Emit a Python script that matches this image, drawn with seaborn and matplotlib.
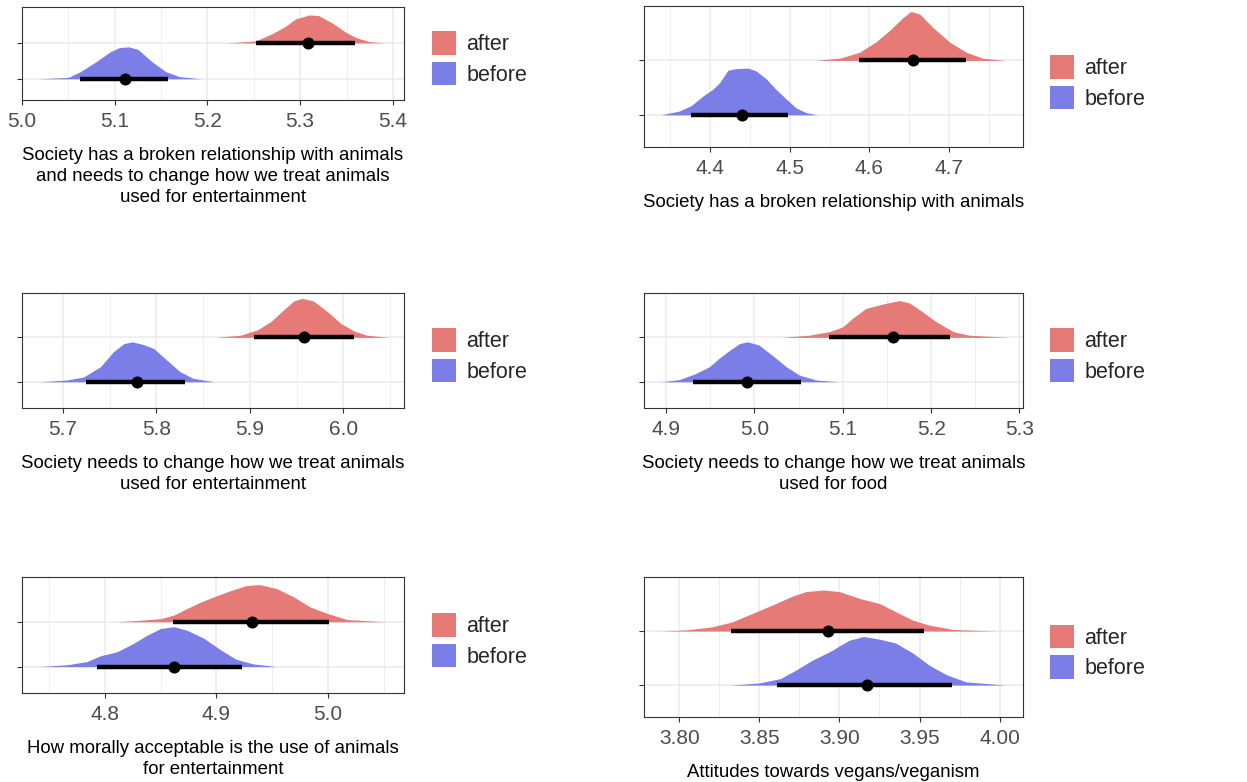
import matplotlib
matplotlib.use("Agg")
import matplotlib.pyplot as plt
from matplotlib.patches import Patch
from matplotlib.ticker import MultipleLocator, FormatStrFormatter
import seaborn as sns

# ---- data (posterior slabs + point intervals) ----
groups = ["after", "before"]
colors = {"after": "#E57A77", "before": "#7B7EE6"}

titles = [
    "Society has a broken relationship with animals\nand needs to change how we treat animals\nused for entertainment",
    "Society has a broken relationship with animals",
    "Society needs to change how we treat animals\nused for entertainment",
    "Society needs to change how we treat animals\nused for food",
    "How morally acceptable is the use of animals\nfor entertainment",
    "Attitudes towards vegans/veganism",
]

xlims = [(5.0, 5.412), (4.318, 4.792), (5.656, 6.065),
         (4.875, 5.304), (4.726, 5.068), (3.778, 4.0146)]
major_step = [0.1, 0.1, 0.1, 0.1, 0.1, 0.05]

# panel 1
p1_after_x = [5.22, 5.252, 5.27, 5.284, 5.295, 5.31, 5.32, 5.335, 5.349, 5.36, 5.374, 5.392]
p1_after_h = [0, 0.055, 0.26, 0.46, 0.67, 0.78, 0.76, 0.55, 0.30, 0.15, 0.04, 0]
p1_before_x = [5.018, 5.05, 5.063, 5.08, 5.095, 5.105, 5.115, 5.125, 5.14, 5.155, 5.17, 5.193]
p1_before_h = [0, 0.04, 0.20, 0.48, 0.75, 0.87, 0.89, 0.82, 0.48, 0.20, 0.06, 0]

# panel 2
p2_after_x = [4.531, 4.5625, 4.5875, 4.608, 4.625, 4.642, 4.652, 4.663, 4.679, 4.70, 4.721, 4.742, 4.771]
p2_after_h = [0, 0.04, 0.15, 0.34, 0.55, 0.79, 0.90, 0.85, 0.61, 0.34, 0.15, 0.04, 0]
p2_before_x = [4.339, 4.362, 4.377, 4.392, 4.404, 4.413, 4.423, 4.433, 4.448, 4.458, 4.471, 4.483,
               4.496, 4.508, 4.521, 4.535]
p2_before_h = [0, 0.07, 0.17, 0.35, 0.47, 0.60, 0.82, 0.85, 0.86, 0.81, 0.66, 0.47, 0.29, 0.13, 0.04, 0]

# panel 3
p3_after_x = [5.863, 5.89, 5.908, 5.922, 5.936, 5.947, 5.956, 5.968, 5.983, 5.997, 6.011, 6.025, 6.049]
p3_after_h = [0, 0.05, 0.17, 0.35, 0.62, 0.82, 0.88, 0.82, 0.58, 0.32, 0.15, 0.05, 0]
p3_before_x = [5.674, 5.704, 5.722, 5.74, 5.754, 5.765, 5.774, 5.786, 5.797, 5.811, 5.825, 5.839, 5.862]
p3_before_h = [0, 0.04, 0.11, 0.34, 0.68, 0.86, 0.90, 0.84, 0.75, 0.49, 0.23, 0.08, 0]

# panel 4
p4_after_x = [5.03, 5.062, 5.085, 5.10, 5.111, 5.126, 5.145, 5.164, 5.175, 5.19, 5.206, 5.225, 5.243, 5.288]
p4_after_h = [0, 0.05, 0.13, 0.24, 0.43, 0.65, 0.75, 0.83, 0.78, 0.58, 0.35, 0.13, 0.05, 0]
p4_before_x = [4.894, 4.915, 4.934, 4.949, 4.96, 4.972, 4.983, 4.992, 5.005, 5.02, 5.036, 5.051, 5.07, 5.096]
p4_before_h = [0, 0.05, 0.19, 0.34, 0.53, 0.71, 0.86, 0.90, 0.83, 0.60, 0.34, 0.15, 0.04, 0]

# panel 5
p5_after_x = [4.811, 4.835, 4.85, 4.862, 4.874, 4.886, 4.898, 4.913, 4.927, 4.939, 4.954, 4.969,
              4.984, 4.999, 5.017, 5.052]
p5_after_h = [0, 0.04, 0.07, 0.15, 0.30, 0.44, 0.56, 0.70, 0.81, 0.83, 0.74, 0.56, 0.33, 0.19, 0.05, 0]
p5_before_x = [4.741, 4.766, 4.784, 4.796, 4.811, 4.826, 4.838, 4.85, 4.862, 4.874, 4.889, 4.904,
               4.918, 4.933, 4.954]
p5_before_h = [0, 0.04, 0.11, 0.24, 0.33, 0.52, 0.70, 0.85, 0.89, 0.81, 0.63, 0.37, 0.16, 0.06, 0]

# panel 6
p6_after_x = [3.7875, 3.804, 3.821, 3.833, 3.846, 3.858, 3.871, 3.879, 3.89, 3.90, 3.913, 3.925,
              3.935, 3.946, 3.956, 3.971, 3.998]
p6_after_h = [0, 0.02, 0.08, 0.17, 0.33, 0.48, 0.65, 0.73, 0.76, 0.73, 0.60, 0.51, 0.36, 0.20, 0.11, 0.03, 0]
p6_before_x = [3.8315, 3.85, 3.863, 3.873, 3.883, 3.894, 3.906, 3.915, 3.925, 3.935, 3.946, 3.956,
               3.967, 3.979, 4.004]
p6_before_h = [0, 0.04, 0.12, 0.28, 0.46, 0.62, 0.83, 0.90, 0.85, 0.78, 0.59, 0.37, 0.19, 0.06, 0]

# point intervals: lower, point, upper
after_lo = [5.252, 4.587, 5.904, 5.084, 4.861, 3.832]
after_mid = [5.308, 4.654, 5.958, 5.157, 4.932, 3.893]
after_hi = [5.359, 4.721, 6.012, 5.221, 5.001, 3.953]
before_lo = [5.063, 4.377, 5.725, 4.930, 4.793, 3.861]
before_mid = [5.111, 4.441, 5.779, 4.992, 4.862, 3.917]
before_hi = [5.158, 4.498, 5.831, 5.053, 4.923, 3.970]

slabs = [
    {"after": (p1_after_x, p1_after_h), "before": (p1_before_x, p1_before_h)},
    {"after": (p2_after_x, p2_after_h), "before": (p2_before_x, p2_before_h)},
    {"after": (p3_after_x, p3_after_h), "before": (p3_before_x, p3_before_h)},
    {"after": (p4_after_x, p4_after_h), "before": (p4_before_x, p4_before_h)},
    {"after": (p5_after_x, p5_after_h), "before": (p5_before_x, p5_before_h)},
    {"after": (p6_after_x, p6_after_h), "before": (p6_before_x, p6_before_h)},
]

# ---- layout (pixel boxes: left, right, top, bottom) ----
W, H = 1247, 782
boxes = [(22, 404, 7, 100), (644, 1023, 6, 147),
         (22, 404, 293, 408), (644, 1023, 293, 408),
         (22, 404, 577, 693), (644, 1023, 577, 717)]
legend_pos = [(432, 58.5), (1050, 82.5), (432, 355.5),
              (1050, 355.5), (432, 640.5), (1050, 652)]

sns.set_theme(style="whitegrid")
plt.rcParams['font.family'] = ['Liberation Sans', 'DejaVu Sans']

fig = plt.figure(figsize=(W / 100, H / 100), dpi=100)
level = {"before": 1, "after": 2}

for i in range(6):
    l, r, t, b = boxes[i]
    ax = fig.add_axes([l / W, 1 - b / H, (r - l) / W, (b - t) / H])
    ax.set_facecolor("white")

    for g in ["before", "after"]:
        xs, hs = slabs[i][g]
        y0 = level[g]
        ax.fill_between(xs, [y0] * len(xs), [y0 + h for h in hs],
                        color=colors[g], linewidth=0, zorder=2)

    for g, lo, mid, hi in [("before", before_lo, before_mid, before_hi),
                           ("after", after_lo, after_mid, after_hi)]:
        y0 = level[g]
        ax.plot([lo[i], hi[i]], [y0, y0], color="black", lw=3.2,
                solid_capstyle="butt", zorder=3)
        sns.scatterplot(x=[mid[i]], y=[y0], ax=ax, color="black", s=75,
                        edgecolor="black", linewidth=0, zorder=4)

    ax.set_xlim(*xlims[i])
    ax.set_ylim(0.41, 3.0)
    ax.xaxis.set_major_locator(MultipleLocator(major_step[i]))
    ax.xaxis.set_minor_locator(MultipleLocator(major_step[i] / 2))
    ax.set_yticks([1, 2])
    ax.set_yticklabels([])
    ax.xaxis.set_major_formatter(FormatStrFormatter("%.2f" if major_step[i] < 0.1 else "%.1f"))

    ax.grid(which="major", color="#EBEBEB", lw=1.1)
    ax.grid(which="minor", axis="x", color="#EBEBEB", lw=0.6)
    ax.set_axisbelow(True)
    for s in ax.spines.values():
        s.set_color("#333333")
        s.set_linewidth(0.8)
    ax.tick_params(axis="both", which="major", length=3.5, width=0.8, color="#333333",
                   labelsize=15, labelcolor="#4D4D4D", pad=5, bottom=True, left=True)
    ax.tick_params(axis="x", which="minor", length=0)

    ax.set_xlabel(titles[i], fontsize=13.4, color="black", labelpad=12, linespacing=1.3)
    ax.set_ylabel("")

    handles = [Patch(facecolor=colors[g], edgecolor="none", label=g) for g in groups]
    lx, ly = legend_pos[i]
    ax.legend(handles=handles, loc="center left", bbox_to_anchor=(lx / W, 1 - ly / H),
              bbox_transform=fig.transFigure, frameon=False, fontsize=15.5,
              handlelength=1.1, handleheight=1.3, labelspacing=0.3,
              handletextpad=0.5, borderpad=0, borderaxespad=0)

fig.savefig("out.png", dpi=100)
